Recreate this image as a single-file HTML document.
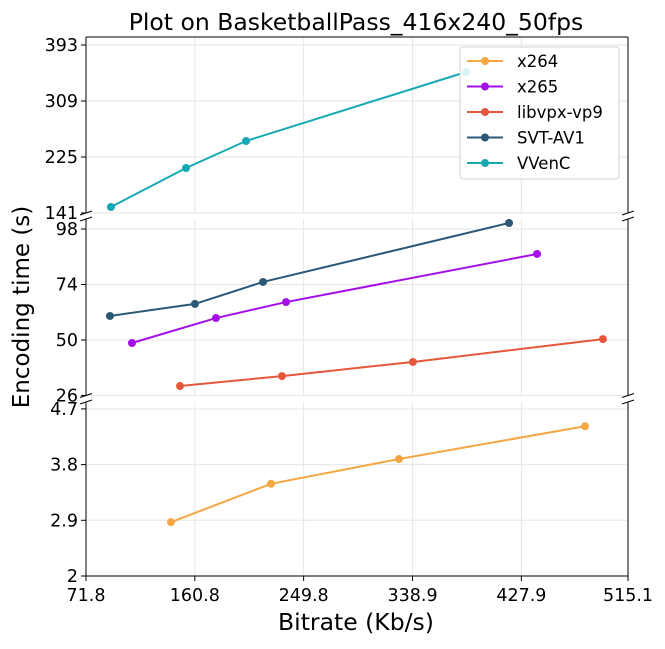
<!DOCTYPE html>
<html><head><meta charset="utf-8"><style>
body{margin:0;background:#fff}
svg{font-family:"DejaVu Sans","Liberation Sans",sans-serif}
</style></head><body>
<svg id="chart" width="665" height="644" xmlns="http://www.w3.org/2000/svg"></svg>
<script>
const xTicks=[71.8,160.8,249.8,338.9,427.9,515.1];
const topTicks=[141,225,309,393];
const midTicks=[26,50,74,98];
const botTicks=[2,2.9,3.8,4.7];
const seriesNames=["x264","x265","libvpx-vp9","SVT-AV1","VVenC"];
const colors=["#f4a742","#a50ee8","#e5573b","#2b5877","#17a9b3"];
const x264X=[141.3,223.1,327.8,479.9], x264Y=[2.87,3.49,3.89,4.42];
const x265X=[109.4,178.1,235.4,440.7], x265Y=[48.7,59.5,66.4,87.2];
const vp9X=[148.7,232.1,339.2,494.6], vp9Y=[30.1,34.4,40.5,50.4];
const svtX=[91.4,160.9,216.6,417.8], svtY=[60.4,65.6,75.1,100.6];
const vvcX=[92.2,153.6,202.7,382.6], vvcY=[150,208.5,249,352.5];

const svg=document.getElementById('chart');
const NS="http://www.w3.org/2000/svg";
function mk(t,a,p){const e=document.createElementNS(NS,t);for(const k in a)e.setAttribute(k,a[k]);(p||svg).appendChild(e);return e;}
const L=86,R=628;
const xs=v=>L+(v-71.8)/(515.1-71.8)*(R-L);
const panels=[
 {top:37,bot:213,min:141,max:141+(213-37)/56*84,ticks:topTicks,name:'top-panel'},
 {top:219,bot:395.5,min:26,max:26+(395.5-219)/55.5*24,ticks:midTicks,name:'middle-panel'},
 {top:402,bot:576,min:2,max:2+(576-402)/55.7*0.9,ticks:botTicks,name:'bottom-panel'}];
panels.forEach(p=>{p.ys=v=>p.bot-(v-p.min)/(p.max-p.min)*(p.bot-p.top);});
panels.forEach(p=>{
 const g=mk('g',{});
 
 
 xTicks.forEach(v=>mk('line',{x1:xs(v),x2:xs(v),y1:p.top,y2:p.bot,stroke:'#e6e6e6','stroke-width':1},g));
 p.ticks.forEach(v=>{const y=p.ys(v);mk('line',{x1:L,x2:R,y1:y,y2:y,stroke:'#e6e6e6','stroke-width':1},g);
  mk('line',{x1:L-5,x2:L,y1:y,y2:y,stroke:'#000'},g);
  const t=mk('text',{x:L-8,y:y+6,'text-anchor':'end','font-size':17.5},g);t.textContent=String(v);
  });
 mk('line',{x1:L,x2:L,y1:p.top,y2:p.bot,stroke:'#000'},g);
 mk('line',{x1:R,x2:R,y1:p.top,y2:p.bot,stroke:'#000'},g);
 if(p.name==='top-panel')mk('line',{x1:L,x2:R,y1:p.top,y2:p.top,stroke:'#000'},g);
 if(p.name==='bottom-panel')mk('line',{x1:L,x2:R,y1:p.bot,y2:p.bot,stroke:'#000'},g);
});
[[213,219],[395.5,402]].forEach(([a,b])=>{[L,R].forEach(x=>{
 mk('line',{x1:x-6,y1:a+2,x2:x+6,y2:a-2,stroke:'#000'});
 mk('line',{x1:x-6,y1:b+2,x2:x+6,y2:b-2,stroke:'#000'});});});
xTicks.forEach(v=>{mk('line',{x1:xs(v),x2:xs(v),y1:576,y2:581,stroke:'#000'});
 const t=mk('text',{x:xs(v),y:601,'text-anchor':'middle','font-size':17.5});t.textContent=v.toFixed(1);
 });
const series=[[x264X,x264Y,2],[x265X,x265Y,1],[vp9X,vp9Y,1],[svtX,svtY,1],[vvcX,vvcY,0]];
series.forEach(([X,Y,pi],i)=>{const p=panels[pi];
 const g=mk('g',{});
 
 
 mk('polyline',{points:X.map((v,j)=>xs(v)+','+p.ys(Y[j])).join(' '),fill:'none',stroke:colors[i],'stroke-width':2},g);
 X.forEach((v,j)=>{const c=mk('circle',{cx:xs(v),cy:p.ys(Y[j]),r:4,fill:colors[i]},g);
  });
});
const lg=mk('g',{});


mk('rect',{x:460,y:47,width:159,height:132,rx:3,fill:'rgba(255,255,255,0.85)',stroke:'#d0d0d0'},lg);
seriesNames.forEach((n,i)=>{const y=61+i*25.5;
 const e=mk('g',{},lg);
 
 
 mk('line',{x1:467,x2:503,y1:y,y2:y,stroke:colors[i],'stroke-width':2},e);
 mk('circle',{cx:485,cy:y,r:4,fill:colors[i]},e);
 const t=mk('text',{x:517,y:y+6,'font-size':16.5},e);t.textContent=n;});
let t=mk('text',{x:356,y:30,'text-anchor':'middle','font-size':23.5});t.textContent='Plot on BasketballPass_416x240_50fps';

t=mk('text',{x:356,y:630,'text-anchor':'middle','font-size':23.5});t.textContent='Bitrate (Kb/s)';

t=mk('text',{x:0,y:0,'text-anchor':'middle','font-size':23,transform:'translate(29,307) rotate(-90)'});t.textContent='Encoding time (s)';

</script>
</body></html>
